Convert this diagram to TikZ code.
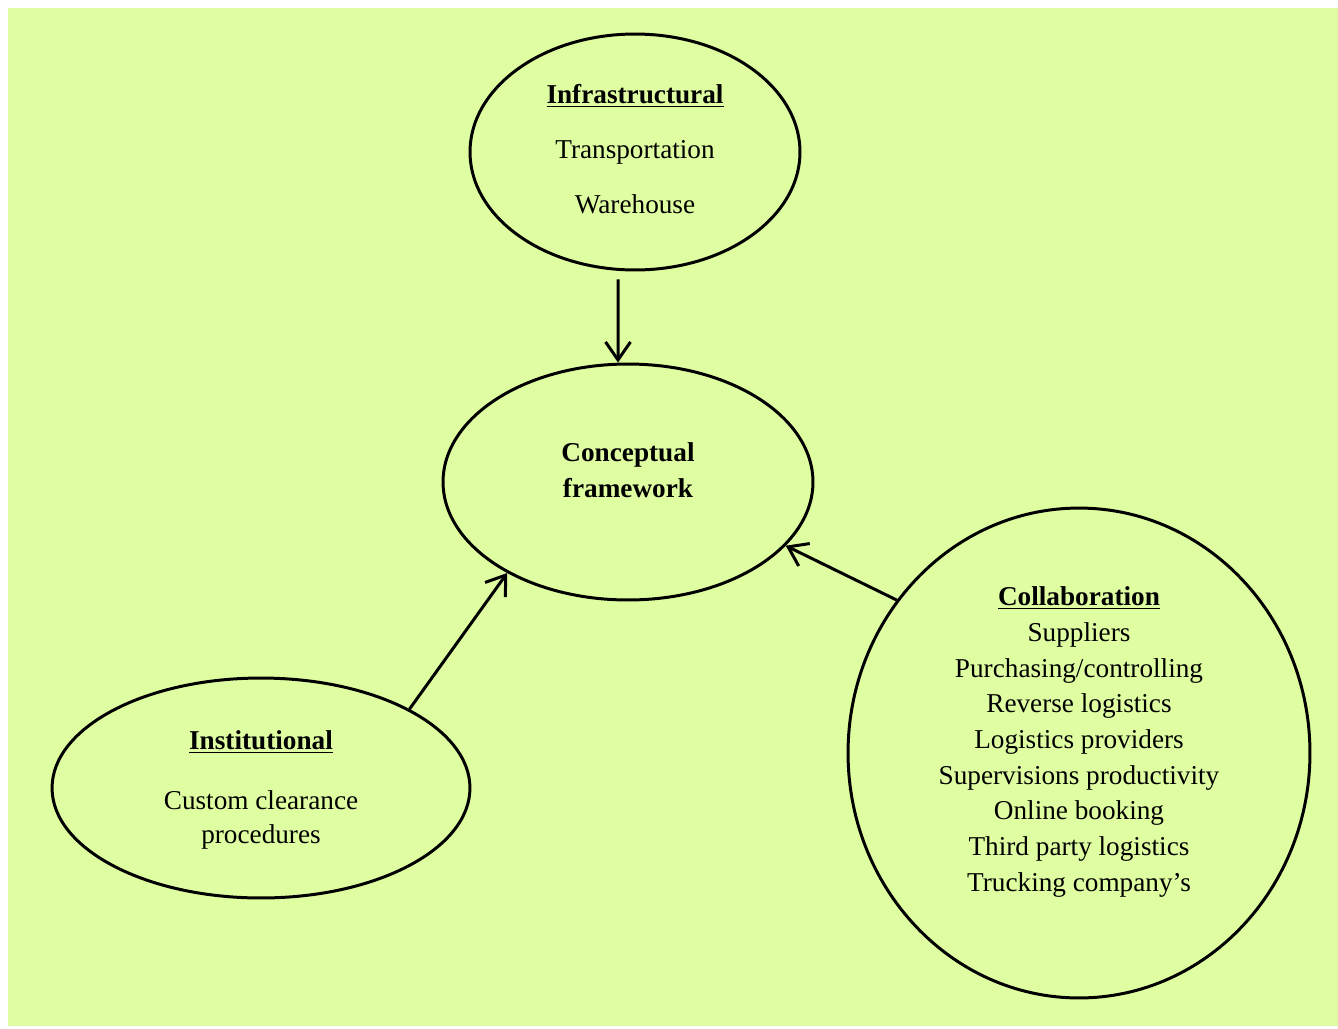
\documentclass[tikz,border=0pt]{standalone}
\usepackage{fontspec}
\setmainfont{Liberation Serif}
\usetikzlibrary{shapes.geometric}
\usetikzlibrary{arrows.meta}
\definecolor{bggreen}{RGB}{223,253,161}
\tikzstyle{bubble} = [ellipse, draw=black, line width=1.7pt, inner sep=0pt]
\tikzstyle{txt} = [align=center, inner sep=0pt, font=\fontsize{15.5}{20.3}\selectfont]
\tikzstyle{arr} = [line width=1.7pt, -{Straight Barb[length=0.36cm,width=0.5cm]}]

\begin{document}
\begin{tikzpicture}[x=0.02cm,y=-0.02cm]

\useasboundingbox (0,0) rectangle (1338,1028);
\fill[bggreen] (8,8) rectangle (1338,1026);

\node (infra) [bubble, minimum width=6.6cm, minimum height=4.72cm] at (635,152) {};
\node (concept) [bubble, minimum width=7.4cm, minimum height=4.72cm] at (628,482) {};
\node (inst) [bubble, minimum width=8.36cm, minimum height=4.4cm] at (261,788) {};
\node (collab) [bubble, minimum width=9.24cm, minimum height=9.8cm] at (1079,753) {};

\node (infratxt) [txt] at ([yshift=0.06cm]infra.center) {\underline{\textbf{Infrastructural}}\\[11pt] Transportation\\[11pt] Warehouse};
\node (concepttxt) [txt] at ([yshift=0.24cm]concept.center) {\textbf{Conceptual}\\ \textbf{framework}};
\node (insttxt) [txt] at ([yshift=-0.04cm]inst.center) {\underline{\textbf{Institutional}}\\[14pt] Custom clearance\\[-1pt] procedures};
\node (collabtxt) [txt] at ([yshift=0.22cm]collab.center) {\underline{\textbf{Collaboration}}\\ Suppliers\\ Purchasing/controlling\\ Reverse logistics\\ Logistics providers\\ Supervisions productivity\\ Online booking\\ Third party logistics\\ Trucking company’s};

\draw[arr] ([xshift=-0.34cm,yshift=-0.16cm]infra.south) -- ([xshift=-0.2cm]concept.north);
\draw[arr] (inst.28.6) -- (concept.217.7);
\draw[arr] (collab.140.6) -- (concept.338.1);

\end{tikzpicture}
\end{document}
